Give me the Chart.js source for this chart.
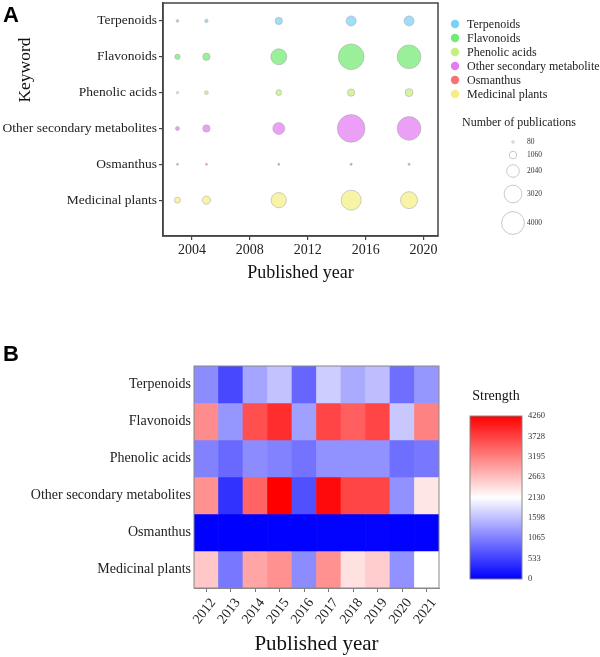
<!DOCTYPE html>
<html>
<head>
<meta charset="utf-8">
<script src="https://cdn.jsdelivr.net/npm/chart.js@4.4.0/dist/chart.umd.min.js"></script>
<style>
  html, body { margin: 0; padding: 0; background: #fff; }
  #page { position: relative; width: 600px; height: 657px; overflow: hidden; }
  .tag { position: absolute; left: 3px; font: bold 22px "Liberation Sans", Arial, sans-serif; line-height: 22px; color: #000; }
  .box { position: absolute; }
</style>
</head>
<body>
<div id="page">
  <!-- bubble chart canvas starts above the page so the bubble overflow padding lands off-screen -->
  <div class="box" style="left:0;top:-13px;width:600px;height:303px"><canvas id="bubbleChart"></canvas></div>
  <div class="box" style="left:0;top:330px;width:600px;height:327px"><canvas id="heatChart"></canvas></div>
  <div class="box" style="left:440px;top:380px;width:160px;height:220px"><canvas id="colorBar"></canvas></div>
  <div class="tag" style="top:4px">A</div>
  <div class="tag" style="top:343px">B</div>
</div>
<script>
// keywords, top row first
const keywords = ['Terpenoids', 'Flavonoids', 'Phenolic acids', 'Other secondary metabolites', 'Osmanthus', 'Medicinal plants'];

// panel A - number of publications
const bubbleYears = [2003, 2005, 2010, 2015, 2019];
const pubTerpenoids = [135, 250, 1020, 1540, 1540];
const pubFlavonoids = [635, 1020, 2690, 4560, 4170];
const pubPhenolic = [60, 330, 710, 1020, 1150];
const pubOther = [385, 1020, 1920, 4940, 4170];
const pubOsmanthus = [1, 2, 3, 30, 25];
const pubMedicinal = [770, 1210, 2560, 3460, 2880];
const yearTicks = [2004, 2008, 2012, 2016, 2020];
const sizeLegendValues = [80, 1060, 2040, 3020, 4000];

// panel B - strength
const heatYears = ['2012', '2013', '2014', '2015', '2016', '2017', '2018', '2019', '2020', '2021'];
const strengthTerpenoids = [1170, 600, 1380, 1620, 850, 1710, 1420, 1590, 920, 1250];
const strengthFlavonoids = [3090, 1250, 3600, 3880, 1340, 3680, 3470, 3680, 1670, 3170];
const strengthPhenolic = [1090, 880, 1170, 1090, 960, 1210, 1210, 1210, 920, 1000];
const strengthOther = [3050, 420, 3430, 4260, 670, 4180, 3680, 3680, 1210, 2340];
const strengthOsmanthus = [3, 2, 4, 5, 6, 15, 20, 25, 10, 8];
const strengthMedicinal = [2600, 1000, 2880, 3050, 1170, 3050, 2380, 2550, 1210, 2130];
const strengthTicks = [0, 533, 1065, 1598, 2130, 2663, 3195, 3728, 4260];
const strengthMax = 4260;

const pubRows = [pubTerpenoids, pubFlavonoids, pubPhenolic, pubOther, pubOsmanthus, pubMedicinal];
const strengthRows = [strengthTerpenoids, strengthFlavonoids, strengthPhenolic, strengthOther, strengthOsmanthus, strengthMedicinal];
const baseColors = ['100,200,245', '90,230,90', '190,235,100', '225,100,240', '245,90,90', '245,235,110'];

const SERIF = '"Liberation Serif", "Times New Roman", serif';
const A_SHIFT = 13; // canvas A is moved up by this much

function bubbleRadius(v) {
  return 1 + 0.0026 * v;
}

function strengthColor(v) {
  const mid = strengthMax / 2;
  if (v <= mid) {
    const c = Math.round(255 * v / mid);
    return `rgb(${c},${c},255)`;
  }
  const c = Math.round(255 * (1 - (v - mid) / mid));
  return `rgb(255,${c},${c})`;
}

// box round the plot area
const framePlugin = {
  id: 'frame',
  afterDraw(chart, args, opts) {
    const { ctx, chartArea: a } = chart;
    ctx.save();
    ctx.strokeStyle = opts.color || '#444';
    ctx.lineWidth = opts.width || 1;
    ctx.strokeRect(a.left, a.top, a.right - a.left, a.bottom - a.top);
    ctx.restore();
  }
};

// free text items (axis titles that are not centred etc)
const notesPlugin = {
  id: 'notes',
  afterDraw(chart, args, opts) {
    const { ctx } = chart;
    (opts.items || []).forEach(it => {
      ctx.save();
      ctx.translate(it.x, it.y);
      if (it.rotate) ctx.rotate(it.rotate);
      ctx.font = it.font;
      ctx.fillStyle = it.color || '#111';
      ctx.textAlign = it.align || 'center';
      ctx.textBaseline = 'middle';
      ctx.fillText(it.text, 0, 0);
      ctx.restore();
    });
  }
};

// colour legend + size legend for panel A
const bubbleLegendPlugin = {
  id: 'bubbleLegend',
  afterDraw(chart) {
    const { ctx } = chart;
    ctx.save();
    ctx.translate(0, A_SHIFT);
    chart.data.datasets.forEach((ds, i) => {
      const y = 24 + i * 14;
      ctx.beginPath();
      ctx.arc(455, y, 4.2, 0, Math.PI * 2);
      ctx.fillStyle = `rgba(${baseColors[i]},0.85)`;
      ctx.fill();
      ctx.font = `12px ${SERIF}`;
      ctx.fillStyle = '#222';
      ctx.textAlign = 'left';
      ctx.textBaseline = 'middle';
      ctx.fillText(ds.label, 467, y + 0.5);
    });
    ctx.font = `12px ${SERIF}`;
    ctx.textAlign = 'center';
    ctx.fillText('Number of publications', 519, 123);
    const rowY = [142, 155, 171, 194, 223];
    sizeLegendValues.forEach((v, i) => {
      ctx.beginPath();
      ctx.arc(513, rowY[i], bubbleRadius(v), 0, Math.PI * 2);
      ctx.strokeStyle = '#bbb';
      ctx.lineWidth = 0.8;
      ctx.stroke();
      ctx.font = `7.5px ${SERIF}`;
      ctx.fillStyle = '#333';
      ctx.textAlign = 'left';
      ctx.fillText(String(v), 527, rowY[i]);
    });
    ctx.restore();
  }
};

Chart.register(framePlugin, notesPlugin);

// ---------- panel A ----------
const nRows = keywords.length;
new Chart(document.getElementById('bubbleChart'), {
  type: 'bubble',
  data: {
    datasets: keywords.map((k, i) => ({
      label: k,
      data: bubbleYears.map((yr, j) => ({ x: yr, y: nRows - i, r: bubbleRadius(pubRows[i][j]) })),
      backgroundColor: `rgba(${baseColors[i]},0.62)`,
      borderColor: 'rgba(170,170,170,0.7)',
      borderWidth: 0.8
    }))
  },
  options: {
    responsive: true,
    maintainAspectRatio: false,
    animation: false,
    layout: { padding: { left: 0, top: 3 + A_SHIFT, right: 162, bottom: 0 } },
    plugins: {
      legend: { display: false },
      tooltip: { enabled: false },
      frame: { color: '#444', width: 1.5 },
      notes: { items: [{ text: 'Keyword', x: 25, y: 70 + A_SHIFT, rotate: -Math.PI / 2, font: `17.5px ${SERIF}` }] }
    },
    scales: {
      x: {
        type: 'linear',
        min: 2002,
        max: 2021,
        afterBuildTicks: s => { s.ticks = yearTicks.map(v => ({ value: v })); },
        afterFit: s => { s.height = 54; },
        ticks: { callback: v => String(v), font: { family: SERIF, size: 14 }, color: '#222', padding: 2, maxRotation: 0 },
        grid: { drawOnChartArea: false, tickLength: 4, color: '#444', lineWidth: 1.2 },
        border: { color: '#444', width: 1.5 },
        title: { display: true, text: 'Published year', font: { family: SERIF, size: 18 }, color: '#111', padding: { top: 0, bottom: 6 } }
      },
      y: {
        type: 'linear',
        min: 0,
        max: 6.5,
        afterBuildTicks: s => { s.ticks = keywords.map((k, i) => ({ value: i + 1 })); },
        afterFit: s => { s.width = 163; },
        ticks: { callback: v => keywords[nRows - v], font: { family: SERIF, size: 13.5 }, color: '#222', padding: 2 },
        grid: { drawOnChartArea: false, tickLength: 4, color: '#444', lineWidth: 1.2 },
        border: { color: '#444', width: 1.5 }
      }
    }
  },
  plugins: [bubbleLegendPlugin]
});

// ---------- panel B ----------
new Chart(document.getElementById('heatChart'), {
  type: 'bar',
  data: {
    labels: heatYears,
    datasets: keywords.map((k, i) => ({
      label: k,
      data: heatYears.map(() => [nRows - 1 - i - 0.5, nRows - 1 - i + 0.5]),
      backgroundColor: strengthRows[i].map(strengthColor),
      borderWidth: 0,
      grouped: false,
      barPercentage: 1,
      categoryPercentage: 1
    }))
  },
  options: {
    responsive: true,
    maintainAspectRatio: false,
    animation: false,
    layout: { padding: { left: 0, top: 36, right: 161, bottom: 0 } },
    plugins: {
      legend: { display: false },
      tooltip: { enabled: false },
      frame: { color: '#888', width: 1 }
    },
    scales: {
      x: {
        afterFit: s => { s.height = 69; },
        ticks: { font: { family: SERIF, size: 14 }, color: '#222', minRotation: 52, maxRotation: 52, padding: 3, labelOffset: 7, autoSkip: false },
        grid: { drawOnChartArea: false, offset: false, tickLength: 4, color: '#777' },
        border: { color: '#888' },
        title: { display: true, text: 'Published year', font: { family: SERIF, size: 21 }, color: '#111', padding: { top: 0, bottom: 0 } }
      },
      y: {
        type: 'linear',
        min: -0.5,
        max: nRows - 0.5,
        afterBuildTicks: s => { s.ticks = keywords.map((k, i) => ({ value: i })); },
        afterFit: s => { s.width = 194; },
        ticks: { callback: v => keywords[nRows - 1 - v], font: { family: SERIF, size: 14 }, color: '#222', padding: 3 },
        grid: { display: false, drawTicks: false },
        border: { display: false }
      }
    }
  }
});

// ---------- colour bar ----------
new Chart(document.getElementById('colorBar'), {
  type: 'bar',
  data: {
    labels: [''],
    datasets: [{
      data: [[0, strengthMax]],
      backgroundColor: c => {
        const { ctx, chartArea } = c.chart;
        if (!chartArea) return 'transparent';
        const g = ctx.createLinearGradient(0, chartArea.bottom, 0, chartArea.top);
        g.addColorStop(0, strengthColor(0));
        g.addColorStop(0.5, strengthColor(strengthMax / 2));
        g.addColorStop(1, strengthColor(strengthMax));
        return g;
      },
      borderWidth: 0,
      barPercentage: 1,
      categoryPercentage: 1
    }]
  },
  options: {
    responsive: true,
    maintainAspectRatio: false,
    animation: false,
    layout: { padding: { left: 30, top: 36, right: 0, bottom: 21 } },
    plugins: {
      legend: { display: false },
      tooltip: { enabled: false },
      frame: { color: '#888', width: 1 },
      notes: { items: [{ text: 'Strength', x: 56, y: 16, font: `14px ${SERIF}` }] }
    },
    scales: {
      x: { display: false },
      y: {
        position: 'right',
        min: 0,
        max: strengthMax,
        afterBuildTicks: s => { s.ticks = strengthTicks.map(v => ({ value: v })); },
        afterFit: s => { s.width = 78; },
        ticks: { callback: v => String(v), font: { family: SERIF, size: 8.5 }, color: '#333', padding: 6 },
        grid: { display: false, drawTicks: false },
        border: { display: false }
      }
    }
  }
});
</script>
</body>
</html>
